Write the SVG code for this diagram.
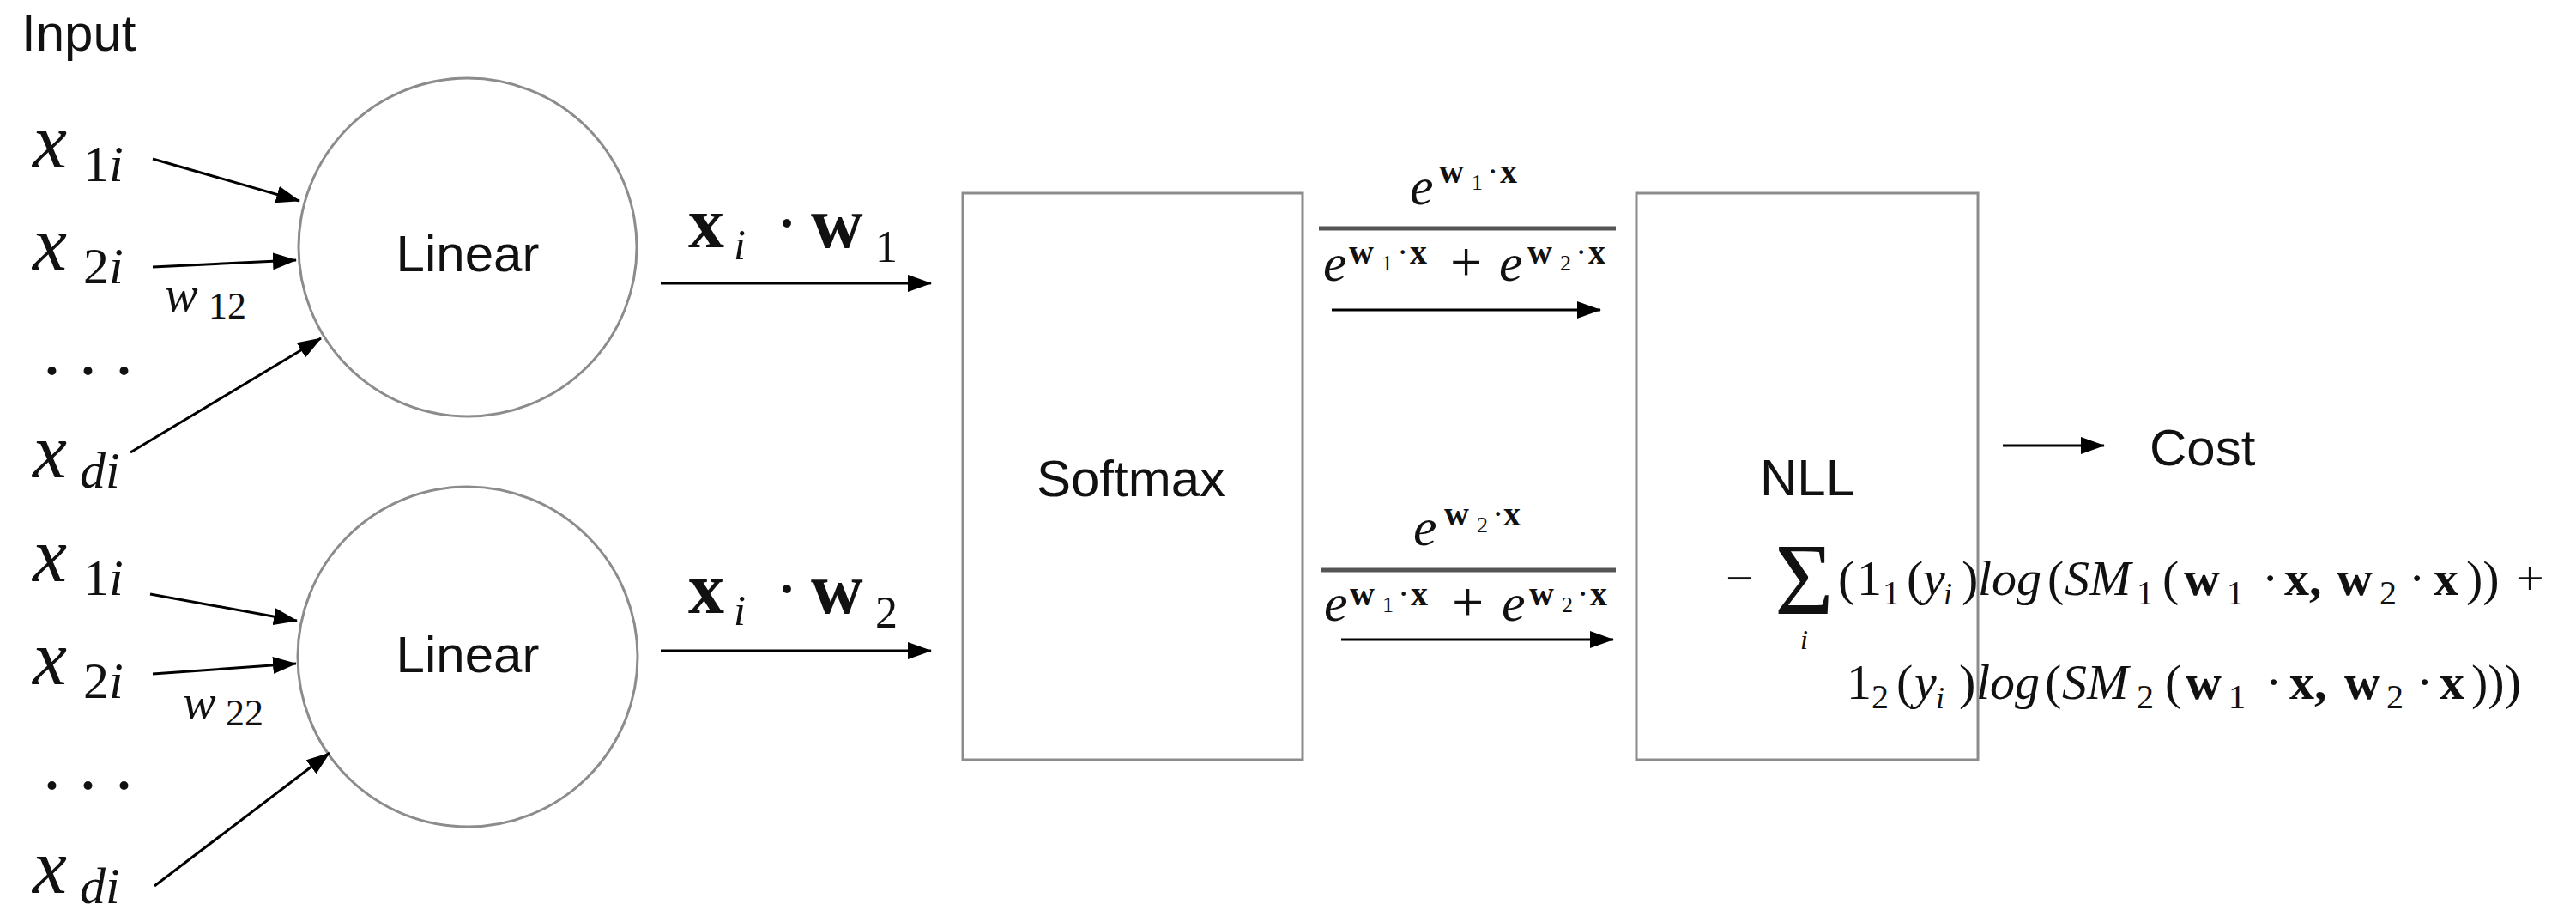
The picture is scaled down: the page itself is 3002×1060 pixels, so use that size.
<svg xmlns="http://www.w3.org/2000/svg" width="3002" height="1060" viewBox="0 0 3002 1060">
<style>
.lbl{font-family:"Liberation Sans",Arial,sans-serif;font-size:60px;fill:#111}
.mi{font-family:"Liberation Serif","Times New Roman",serif;font-style:italic;fill:#111}
.mr{font-family:"Liberation Serif","Times New Roman",serif;fill:#111}
.mb{font-family:"Liberation Serif","Times New Roman",serif;font-weight:bold;fill:#111}
.shape{fill:#fff;stroke:#8c8c8c;stroke-width:3}
.conn{stroke:#000;stroke-width:3;fill:none;marker-end:url(#ah)}
.bar{stroke:#555;stroke-width:5}
</style>
<defs>
<marker id="ah" markerUnits="userSpaceOnUse" markerWidth="28" markerHeight="20" refX="27" refY="10" orient="auto">
<path d="M0,0 L28,10 L0,20 z" fill="#000"/>
</marker>
</defs>
<rect width="3002" height="1060" fill="#fff"/>

<g id="input">
<text class="lbl" x="25" y="59">Input</text>
<g id="inputs-1">
<text class="mi" x="38" y="195" font-size="90">x</text>
<text y="211" font-size="60"><tspan class="mr" x="97">1</tspan><tspan class="mi">i</tspan></text>
<text class="mi" x="38" y="314" font-size="90">x</text>
<text y="330" font-size="60"><tspan class="mr" x="97">2</tspan><tspan class="mi">i</tspan></text>
<text class="mi" x="192" y="362" font-size="58">w</text>
<text class="mr" x="243" y="371" font-size="44">12</text>
<text class="mr" x="50" y="436" font-size="84">. . .</text>
<text class="mi" x="38" y="556" font-size="90">x</text>
<text class="mi" x="93" y="568" font-size="60">di</text>
</g>
<g id="inputs-2">
<text class="mi" x="38" y="677" font-size="90">x</text>
<text y="693" font-size="60"><tspan class="mr" x="97">1</tspan><tspan class="mi">i</tspan></text>
<text class="mi" x="38" y="797" font-size="90">x</text>
<text y="813" font-size="60"><tspan class="mr" x="97">2</tspan><tspan class="mi">i</tspan></text>
<text class="mi" x="213" y="837" font-size="58">w</text>
<text class="mr" x="263" y="845" font-size="44">22</text>
<text class="mr" x="50" y="919" font-size="84">. . .</text>
<text class="mi" x="38" y="1040" font-size="90">x</text>
<text class="mi" x="93" y="1052" font-size="60">di</text>
</g>
</g>

<g id="linear-1">
<circle class="shape" cx="545" cy="288" r="197"/>
<text class="lbl" x="545" y="316" text-anchor="middle">Linear</text>
</g>
<g id="linear-2">
<circle class="shape" cx="545" cy="765" r="198"/>
<text class="lbl" x="545" y="783" text-anchor="middle">Linear</text>
</g>

<g id="softmax">
<rect class="shape" x="1122" y="225" width="396" height="660"/>
<text class="lbl" x="1318" y="578" text-anchor="middle">Softmax</text>
</g>

<g id="nll">
<rect class="shape" x="1907" y="225" width="398" height="660"/>
<text class="lbl" x="2106" y="577" text-anchor="middle">NLL</text>
</g>

<g id="cost">
<text class="lbl" x="2505" y="542">Cost</text>
</g>

<g id="connectors">
<line class="conn" x1="178" y1="185" x2="349" y2="234"/>
<line class="conn" x1="178" y1="311" x2="345" y2="303"/>
<line class="conn" x1="152" y1="527" x2="374" y2="394"/>
<line class="conn" x1="175" y1="692" x2="346" y2="723"/>
<line class="conn" x1="178" y1="785" x2="345" y2="773"/>
<line class="conn" x1="180" y1="1032" x2="384" y2="877"/>
<line class="conn" x1="770" y1="330" x2="1085" y2="330"/>
<line class="conn" x1="770" y1="758" x2="1085" y2="758"/>
<line class="conn" x1="1552" y1="361" x2="1865" y2="361"/>
<line class="conn" x1="1563" y1="745" x2="1880" y2="745"/>
<line class="conn" x1="2334" y1="519" x2="2452" y2="519"/>
</g>

<g id="label-xw1">
<text class="mb" x="802" y="288" font-size="84">x</text>
<text class="mi" x="855" y="302" font-size="50">i</text>
<text class="mr" x="903" y="288" font-size="84">·</text>
<text class="mb" x="945" y="288" font-size="84">w</text>
<text class="mr" x="1020" y="305" font-size="52">1</text>
</g>
<g id="label-xw2">
<text class="mb" x="802" y="714" font-size="84">x</text>
<text class="mi" x="855" y="728" font-size="50">i</text>
<text class="mr" x="903" y="714" font-size="84">·</text>
<text class="mb" x="945" y="714" font-size="84">w</text>
<text class="mr" x="1020" y="731" font-size="52">2</text>
</g>

<g id="label-sm1">
<text class="mi" x="1643" y="238" font-size="62">e</text>
<text class="mb" x="1677" y="213" font-size="40">w</text><text class="mr" x="1715" y="221" font-size="26">1</text><text class="mr" x="1733" y="213" font-size="40">·</text><text class="mb" x="1748" y="213" font-size="40">x</text>
<line class="bar" x1="1537" y1="266" x2="1883" y2="266"/>
<text class="mi" x="1542" y="327" font-size="62">e</text>
<text class="mb" x="1572" y="307" font-size="40">w</text><text class="mr" x="1610" y="315" font-size="26">1</text><text class="mr" x="1628" y="307" font-size="40">·</text><text class="mb" x="1643" y="307" font-size="40">x</text>
<text class="mr" x="1690" y="327" font-size="66">+</text>
<text class="mi" x="1747" y="327" font-size="62">e</text>
<text class="mb" x="1780" y="307" font-size="40">w</text><text class="mr" x="1818" y="315" font-size="26">2</text><text class="mr" x="1836" y="307" font-size="40">·</text><text class="mb" x="1851" y="307" font-size="40">x</text>
</g>

<g id="label-sm2">
<text class="mi" x="1647" y="635" font-size="62">e</text>
<text class="mb" x="1683" y="612" font-size="40">w</text><text class="mr" x="1721" y="620" font-size="26">2</text><text class="mr" x="1739" y="612" font-size="40">·</text><text class="mb" x="1752" y="612" font-size="40">x</text>
<line class="bar" x1="1540" y1="664" x2="1883" y2="664"/>
<text class="mi" x="1543" y="723" font-size="62">e</text>
<text class="mb" x="1573" y="705" font-size="40">w</text><text class="mr" x="1611" y="713" font-size="26">1</text><text class="mr" x="1629" y="705" font-size="40">·</text><text class="mb" x="1644" y="705" font-size="40">x</text>
<text class="mr" x="1692" y="723" font-size="66">+</text>
<text class="mi" x="1750" y="723" font-size="62">e</text>
<text class="mb" x="1782" y="705" font-size="40">w</text><text class="mr" x="1820" y="713" font-size="26">2</text><text class="mr" x="1838" y="705" font-size="40">·</text><text class="mb" x="1853" y="705" font-size="40">x</text>
</g>

<g id="formula" font-size="58">
<text class="mr" x="2011" y="693">−</text>
<text class="mr" x="2068" y="715" font-size="118">Σ</text>
<text class="mi" x="2098" y="756" font-size="32">i</text>
<text class="mr" x="2142" y="693">(</text>
<text class="mr" x="2164" y="693">1</text>
<text class="mr" x="2194" y="704" font-size="40">1</text>
<text class="mr" x="2222" y="693">(</text>
<text class="mi" x="2241" y="693">y</text>
<text class="mi" x="2265" y="704" font-size="36">i</text>
<text class="mr" x="2286" y="693">)</text>
<text class="mi" x="2305" y="693">log</text>
<text class="mr" x="2386" y="693">(</text>
<text class="mi" x="2406" y="693">SM</text>
<text class="mr" x="2490" y="704" font-size="40">1</text>
<text class="mr" x="2520" y="693">(</text>
<text class="mb" x="2545" y="693">w</text>
<text class="mr" x="2595" y="704" font-size="40">1</text>
<text class="mr" x="2636" y="693">·</text>
<text class="mb" x="2662" y="693">x,</text>
<text class="mb" x="2723" y="693">w</text>
<text class="mr" x="2773" y="704" font-size="40">2</text>
<text class="mr" x="2807" y="693">·</text>
<text class="mb" x="2836" y="693">x</text>
<text class="mr" x="2874" y="693">))</text>
<text class="mr" x="2932" y="693">+</text>

<text class="mr" x="2152" y="814">1</text>
<text class="mr" x="2181" y="825" font-size="40">2</text>
<text class="mr" x="2210" y="814">(</text>
<text class="mi" x="2231" y="814">y</text>
<text class="mi" x="2256" y="825" font-size="36">i</text>
<text class="mr" x="2283" y="814">)</text>
<text class="mi" x="2303" y="814">log</text>
<text class="mr" x="2383" y="814">(</text>
<text class="mi" x="2403" y="814">SM</text>
<text class="mr" x="2490" y="825" font-size="40">2</text>
<text class="mr" x="2523" y="814">(</text>
<text class="mb" x="2547" y="814">w</text>
<text class="mr" x="2597" y="825" font-size="40">1</text>
<text class="mr" x="2640" y="814">·</text>
<text class="mb" x="2668" y="814">x,</text>
<text class="mb" x="2732" y="814">w</text>
<text class="mr" x="2781" y="825" font-size="40">2</text>
<text class="mr" x="2816" y="814">·</text>
<text class="mb" x="2843" y="814">x</text>
<text class="mr" x="2880" y="814">)))</text>
</g>
</svg>
